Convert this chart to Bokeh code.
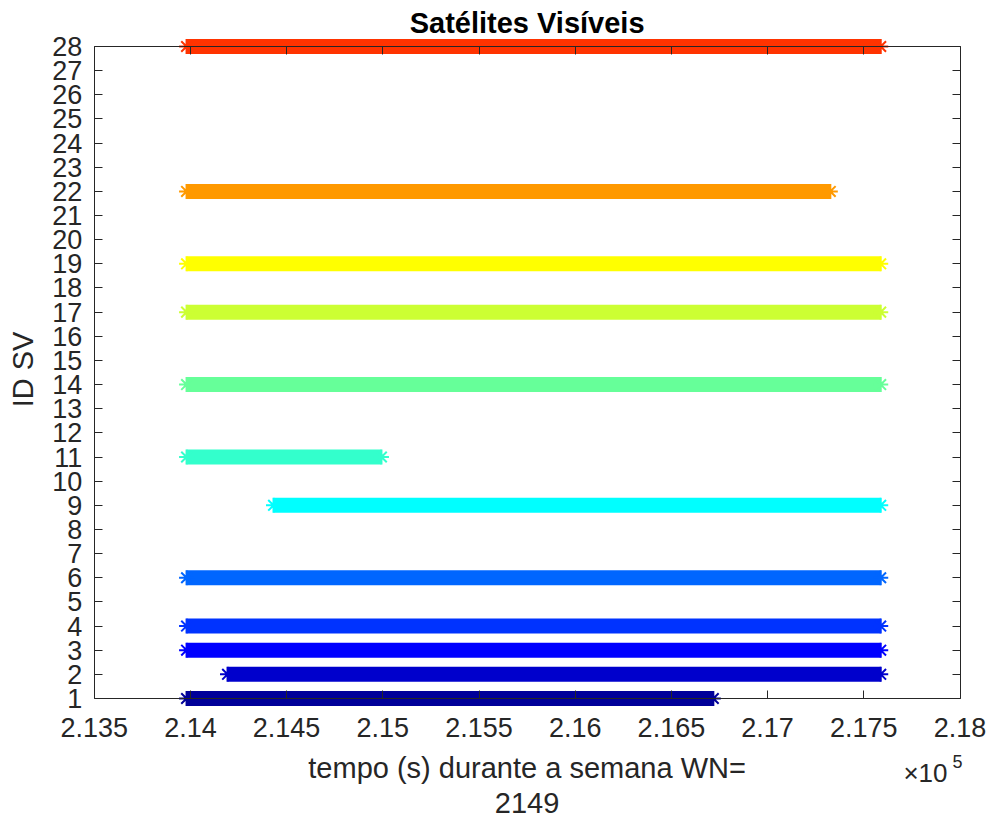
import math
from bokeh.plotting import figure
from bokeh.models import Range1d, FixedTicker, LinearAxis, Label, ColumnDataSource
from bokeh.embed import file_html
from bokeh.resources import INLINE

# ---- data ----
sv_ids = [1, 2, 3, 4, 6, 9, 11, 14, 17, 19, 22, 28]
t_start = [213980, 214193, 213980, 213980, 213980, 214432, 213980, 213980, 213980, 213980, 213980, 213980]
t_end = [216718, 217588, 217588, 217588, 217588, 217588, 214993, 217588, 217588, 217588, 217326, 217588]
bar_colors = ["#000099", "#0000CC", "#0000FF", "#0033FF", "#0066FF", "#00FFFF",
              "#33FFCC", "#66FF99", "#CCFF33", "#FFFF00", "#FF9900", "#FF3300"]
x_ticks = [213500, 214000, 214500, 215000, 215500, 216000, 216500, 217000, 217500, 218000]
x_tick_labels = ["2.135", "2.14", "2.145", "2.15", "2.155", "2.16", "2.165", "2.17", "2.175", "2.18"]
y_ticks = list(range(1, 29))
title_text = "Satélites Visíveis"
xlabel_line1 = "tempo (s) durante a semana WN="
xlabel_line2 = "2149"
ylabel_text = "ID SV"
exp_base = "\u00d710"
exp_power = "5"

# ---- layout (pixel targets of the axes box) ----
FONT = "Liberation Sans"
AX = "#262626"
W, H = 990, 822
x0, x1 = x_ticks[0], x_ticks[-1]
y0, y1 = y_ticks[0], y_ticks[-1]
BOX_L, BOX_R, BOX_T, BOX_B = 93.7, 959.5, 46.0, 698.0
sx = (BOX_R - BOX_L) / (x1 - x0)
sy = (BOX_B - BOX_T) / (y1 - y0)
xr = Range1d(x0 - BOX_L / sx, x1 + (W - BOX_R) / sx)
yr_ = Range1d(y0 - (H - BOX_B) / sy, y1 + BOX_T / sy)

p = figure(width=W, height=H, output_backend="svg", toolbar_location=None,
           x_range=xr, y_range=yr_,
           min_border_left=0, min_border_right=0, min_border_top=0, min_border_bottom=0,
           x_axis_location=None, y_axis_location=None)
p.outline_line_color = None
p.xgrid.visible = False
p.ygrid.visible = False
p.background_fill_color = "white"
p.border_fill_color = "white"


def style_axis(ax, show_labels=True):
    ax.axis_line_color = AX
    ax.axis_line_width = 1
    ax.major_tick_line_color = AX
    ax.major_tick_line_width = 1
    ax.major_tick_in = 8
    ax.major_tick_out = 0
    ax.minor_tick_line_color = None
    ax.major_label_text_font = FONT
    ax.major_label_text_font_size = "27px"
    ax.major_label_text_color = AX if show_labels else None


xb = LinearAxis(ticker=FixedTicker(ticks=x_ticks), fixed_location=y0, bounds=(x0, x1),
                major_label_overrides={t: s for t, s in zip(x_ticks, x_tick_labels)})
style_axis(xb)
xb.major_label_standoff = 19
p.add_layout(xb, "below")

xt = LinearAxis(ticker=FixedTicker(ticks=x_ticks), fixed_location=y1, bounds=(x0, x1))
style_axis(xt, False)
p.add_layout(xt, "above")

yl = LinearAxis(ticker=FixedTicker(ticks=y_ticks), fixed_location=x0, bounds=(y0, y1))
style_axis(yl)
yl.major_label_standoff = 12
p.add_layout(yl, "left")

yr = LinearAxis(ticker=FixedTicker(ticks=y_ticks), fixed_location=x1, bounds=(y0, y1))
style_axis(yr, False)
p.add_layout(yr, "right")

# ---- bars ----
src = ColumnDataSource(dict(xs=t_start, xe=t_end, y=sv_ids, color=bar_colors))
p.segment(x0="xs", y0="y", x1="xe", y1="y", line_color="color", line_width=15,
          line_cap="butt", source=src)
p.scatter(x="xs", y="y", marker="asterisk", size=15, line_color="color", line_width=2, source=src)
p.scatter(x="xe", y="y", marker="asterisk", size=15, line_color="color", line_width=2, source=src)

# ---- texts ----
xc = (x0 + x1) / 2
p.add_layout(Label(x=xc, y=y1, y_offset=24, text=title_text, text_align="center",
                   text_baseline="alphabetic", text_font=FONT, text_font_size="29px",
                   text_font_style="bold", text_color="black"))
p.add_layout(Label(x=xc, y=y0, y_offset=-69, text=xlabel_line1, text_align="center",
                   text_baseline="alphabetic", text_font=FONT, text_font_size="29px",
                   text_color=AX))
p.add_layout(Label(x=xc, y=y0, y_offset=-104, text=xlabel_line2, text_align="center",
                   text_baseline="alphabetic", text_font=FONT, text_font_size="29px",
                   text_color=AX))
p.add_layout(Label(x=x0, y=(y0 + y1) / 2, x_offset=-71, y_offset=3, text=ylabel_text,
                   angle=math.pi / 2, text_align="center", text_baseline="alphabetic",
                   text_font=FONT, text_font_size="29px", text_color=AX))
p.add_layout(Label(x=x1, y=y0, x_offset=-12.5, y_offset=-74, text=exp_base, text_align="right",
                   text_baseline="alphabetic", text_font=FONT, text_font_size="26px",
                   text_color=AX))
p.add_layout(Label(x=x1, y=y0, x_offset=-7.5, y_offset=-63, text=exp_power, text_align="left",
                   text_baseline="alphabetic", text_font=FONT, text_font_size="18px",
                   text_color=AX))

open("out.html", "w").write(file_html(p, INLINE))
